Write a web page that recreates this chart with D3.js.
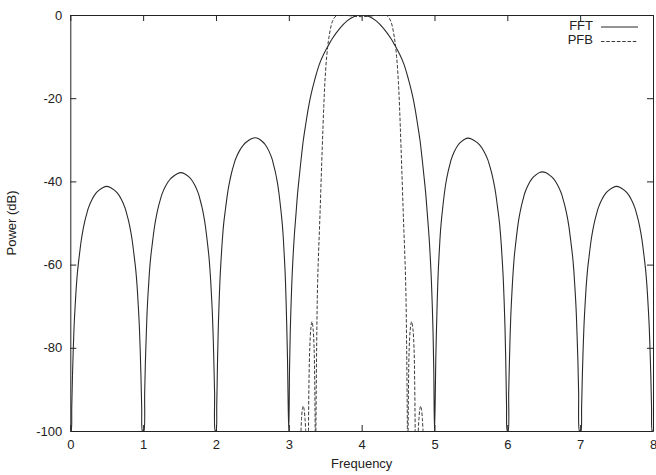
<!DOCTYPE html>
<html>
<head>
<meta charset="utf-8">
<script src="https://cdn.jsdelivr.net/npm/d3@7"></script>
<style>
  body { margin: 0; background: #fff; }
  text { font-family: "Liberation Sans", Arial, sans-serif; fill: #222; }
</style>
</head>
<body>
<script>
// Données : [fréquence, puissance (dB)]
// FFT, un tableau par lobe
const fftLobe1 = [
  [0, -100], [0.01, -100], [0.02, -94.2], [0.03, -86.7], [0.04, -80.7], [0.05, -75.7], [0.06, -72], [0.075, -67.4],
  [0.085, -64.7], [0.1, -61.5], [0.12, -58.4], [0.15, -54.2], [0.17, -52.05], [0.2, -49.5], [0.23, -47.5], [0.25, -46.3],
  [0.3, -44.3], [0.35, -42.9], [0.4, -42.05], [0.45, -41.45], [0.5, -41.2], [0.55, -41.45], [0.6, -42.05], [0.65, -42.9],
  [0.7, -44.3], [0.75, -46.3], [0.77, -47.5], [0.8, -49.5], [0.83, -52.05], [0.85, -54.2], [0.88, -58.4], [0.9, -61.5],
  [0.915, -64.7], [0.925, -67.4], [0.94, -72], [0.95, -75.7], [0.96, -80.7], [0.97, -86.7], [0.98, -94.2], [0.99, -100]
];
const fftLobe2 = [
  [1, -100], [1.01, -100], [1.021, -90.9], [1.031, -83.4], [1.042, -77.4], [1.052, -72.4], [1.062, -68.7], [1.078, -64.1],
  [1.088, -61.4], [1.104, -58.2], [1.125, -55.1], [1.156, -50.9], [1.177, -48.75], [1.208, -46.2], [1.239, -44.2], [1.26, -43],
  [1.312, -41], [1.364, -39.6], [1.416, -38.75], [1.468, -38.15], [1.52, -37.9], [1.568, -38.15], [1.616, -38.75],
  [1.664, -39.6], [1.712, -41], [1.76, -43], [1.779, -44.2], [1.808, -46.2], [1.837, -48.75], [1.856, -50.9],
  [1.885, -55.1], [1.904, -58.2], [1.918, -61.4], [1.928, -64.1], [1.942, -68.7], [1.952, -72.4], [1.962, -77.4],
  [1.971, -83.4], [1.981, -90.9], [1.99, -100]
];
const fftLobe3 = [
  [2, -100], [2.011, -93.5], [2.022, -82.5], [2.032, -75], [2.043, -69], [2.054, -64], [2.065, -60.3], [2.081, -55.7],
  [2.092, -53], [2.108, -49.8], [2.13, -46.7], [2.162, -42.5], [2.184, -40.35], [2.216, -37.8], [2.248, -35.8], [2.27, -34.6],
  [2.324, -32.6], [2.378, -31.2], [2.432, -30.35], [2.486, -29.75], [2.54, -29.5], [2.586, -29.75], [2.632, -30.35],
  [2.678, -31.2], [2.724, -32.6], [2.77, -34.6], [2.788, -35.8], [2.816, -37.8], [2.844, -40.35], [2.862, -42.5],
  [2.89, -46.7], [2.908, -49.8], [2.922, -53], [2.931, -55.7], [2.945, -60.3], [2.954, -64], [2.963, -69], [2.972, -75],
  [2.982, -82.5], [2.991, -93.5]
];
const fftMainLobe = [
  [3, -100], [3.01, -85], [3.02, -76], [3.03, -70], [3.04, -65], [3.05, -61], [3.065, -56], [3.08, -52], [3.1, -47.5],
  [3.12, -43], [3.143, -39], [3.17, -34.5], [3.2, -30], [3.23, -26.5], [3.267, -22.5], [3.3, -19.5], [3.36, -15.3],
  [3.42, -11.8], [3.48, -9.4], [3.54, -7.4], [3.6, -5.6], [3.7, -3.2], [3.8, -1.4], [3.9, -0.35], [4, 0],
  [4.1, -0.35], [4.2, -1.4], [4.3, -3.2], [4.4, -5.6], [4.46, -7.4], [4.52, -9.4], [4.58, -11.8], [4.64, -15.3],
  [4.7, -19.5], [4.733, -22.5], [4.77, -26.5], [4.8, -30], [4.83, -34.5], [4.857, -39], [4.88, -43], [4.9, -47.5],
  [4.92, -52], [4.935, -56], [4.95, -61], [4.96, -65], [4.97, -70], [4.98, -76], [4.99, -85]
];
const fftLobe6 = [
  [5, -100], [5.009, -93.6], [5.018, -82.6], [5.028, -75.1], [5.037, -69.1], [5.046, -64.1], [5.055, -60.4], [5.069, -55.8],
  [5.078, -53.1], [5.092, -49.9], [5.11, -46.8], [5.138, -42.6], [5.156, -40.45], [5.184, -37.9], [5.212, -35.9], [5.23, -34.7],
  [5.276, -32.7], [5.322, -31.3], [5.368, -30.45], [5.414, -29.85], [5.46, -29.6], [5.514, -29.85], [5.568, -30.45],
  [5.622, -31.3], [5.676, -32.7], [5.73, -34.7], [5.752, -35.9], [5.784, -37.9], [5.816, -40.45], [5.838, -42.6],
  [5.87, -46.8], [5.892, -49.9], [5.908, -53.1], [5.919, -55.8], [5.935, -60.4], [5.946, -64.1], [5.957, -69.1],
  [5.968, -75.1], [5.978, -82.6], [5.989, -93.6]
];
const fftLobe7 = [
  [6, -100], [6.01, -100], [6.019, -90.7], [6.029, -83.2], [6.038, -77.2], [6.048, -72.2], [6.058, -68.5], [6.072, -63.9],
  [6.082, -61.2], [6.096, -58], [6.115, -54.9], [6.144, -50.7], [6.163, -48.55], [6.192, -46], [6.221, -44], [6.24, -42.8],
  [6.288, -40.8], [6.336, -39.4], [6.384, -38.55], [6.432, -37.95], [6.48, -37.7], [6.532, -37.95], [6.584, -38.55],
  [6.636, -39.4], [6.688, -40.8], [6.74, -42.8], [6.761, -44], [6.792, -46], [6.823, -48.55], [6.844, -50.7],
  [6.875, -54.9], [6.896, -58], [6.912, -61.2], [6.922, -63.9], [6.938, -68.5], [6.948, -72.2], [6.958, -77.2],
  [6.969, -83.2], [6.979, -90.7], [6.99, -100]
];
const fftLobe8 = [
  [7, -100], [7.01, -100], [7.02, -94.2], [7.03, -86.7], [7.04, -80.7], [7.05, -75.7], [7.06, -72], [7.075, -67.4],
  [7.085, -64.7], [7.1, -61.5], [7.12, -58.4], [7.15, -54.2], [7.17, -52.05], [7.2, -49.5], [7.23, -47.5], [7.25, -46.3],
  [7.3, -44.3], [7.35, -42.9], [7.4, -42.05], [7.45, -41.45], [7.5, -41.2], [7.55, -41.45], [7.6, -42.05], [7.65, -42.9],
  [7.7, -44.3], [7.75, -46.3], [7.77, -47.5], [7.8, -49.5], [7.83, -52.05], [7.85, -54.2], [7.88, -58.4], [7.9, -61.5],
  [7.915, -64.7], [7.925, -67.4], [7.94, -72], [7.95, -75.7], [7.96, -80.7], [7.97, -86.7], [7.98, -94.2], [7.99, -100],
  [8, -100]
];

// PFB : seuls les morceaux au-dessus de -100 dB sont visibles
const pfbSmallLeft = [[3.167, -100], [3.175, -97], [3.186, -94.8], [3.198, -94], [3.21, -94.8], [3.222, -97], [3.232, -100]];
const pfbSideLeft = [[3.27, -100], [3.277, -88], [3.288, -80], [3.302, -75.5], [3.318, -73.7], [3.334, -75.5], [3.347, -80], [3.356, -88], [3.362, -100]];
const pfbMainLobe = [
  [3.372, -100], [3.382, -80], [3.396, -64], [3.428, -48], [3.459, -32], [3.48, -22], [3.496, -16], [3.52, -10],
  [3.55, -5.5], [3.6, -1.5], [3.65, -0.2], [3.7, 0], [3.8, -0.1], [3.9, -0.3], [4, -0.4], [4.1, -0.3], [4.2, -0.1],
  [4.3, 0], [4.35, -0.2], [4.4, -1.5], [4.45, -5.5], [4.48, -10], [4.504, -16], [4.52, -22], [4.541, -32], [4.572, -48],
  [4.604, -64], [4.618, -80], [4.628, -100]
];
const pfbSideRight = [[4.638, -100], [4.644, -88], [4.653, -80], [4.668, -75.5], [4.686, -73.7], [4.704, -75.5], [4.719, -80], [4.728, -88], [4.735, -100]];
const pfbSmallRight = [[4.777, -100], [4.787, -97], [4.798, -94.8], [4.81, -94], [4.822, -94.8], [4.833, -97], [4.843, -100]];

const xTicks = [0, 1, 2, 3, 4, 5, 6, 7, 8];
const yTicks = [0, -20, -40, -60, -80, -100];
const seriesNames = ["FFT", "PFB"];

const fftData = [].concat(fftLobe1, fftLobe2, fftLobe3, fftMainLobe, fftLobe6, fftLobe7, fftLobe8);
const pfbParts = [pfbSmallLeft, pfbSideLeft, pfbMainLobe, pfbSideRight, pfbSmallRight];

const width = 656;
const height = 475;
const margin = { top: 15, right: 3, bottom: 44, left: 70.3 };

const svg = d3.select("body").append("svg")
  .attr("width", width)
  .attr("height", height);

const x = d3.scaleLinear().domain([0, 8]).range([margin.left, width - margin.right]);
const y = d3.scaleLinear().domain([-100, 0]).range([height - margin.bottom, margin.top]);

// Zone de clip
svg.append("clipPath").attr("id", "clip")
  .append("rect")
  .attr("x", x(0)).attr("y", y(0))
  .attr("width", x(8) - x(0)).attr("height", y(-100) - y(0));

// Axes (ticks vers l'intérieur, sur les 4 côtés)
const fontSize = "13px";
const plain = d => String(d); // tiret simple, pas de signe moins unicode

svg.append("g")
  .attr("transform", `translate(0,${y(-100)})`)
  .call(d3.axisBottom(x).tickValues(xTicks).tickSize(-6).tickSizeOuter(0).tickPadding(9).tickFormat(plain));
svg.append("g")
  .attr("transform", `translate(${x(0)},0)`)
  .call(d3.axisLeft(y).tickValues(yTicks).tickSize(-6).tickSizeOuter(0).tickPadding(8).tickFormat(plain));
svg.append("g")
  .attr("transform", `translate(0,${y(0)})`)
  .call(d3.axisTop(x).tickValues(xTicks).tickSize(-6).tickSizeOuter(0).tickFormat(""));
svg.append("g")
  .attr("transform", `translate(${x(8)},0)`)
  .call(d3.axisRight(y).tickValues(yTicks).tickSize(-6).tickSizeOuter(0).tickFormat(""));

svg.selectAll(".domain, .tick line").attr("stroke", "#222").attr("stroke-width", 1);
svg.selectAll(".tick text").style("font-size", fontSize).attr("fill", "#222")
  .style("font-family", '"Liberation Sans", Arial, sans-serif');

// Titres des axes
svg.append("text")
  .attr("x", x(4)).attr("y", 467.5)
  .attr("text-anchor", "middle")
  .style("font-size", fontSize)
  .text("Frequency");

svg.append("text")
  .attr("transform", `translate(16,${(y(0) + y(-100)) / 2}) rotate(-90)`)
  .attr("text-anchor", "middle")
  .style("font-size", fontSize)
  .text("Power (dB)");

// Courbes
const line = d3.line()
  .x(d => x(d[0]))
  .y(d => y(d[1]))
  .curve(d3.curveCatmullRom.alpha(0.5));

const plot = svg.append("g").attr("clip-path", "url(#clip)");

plot.append("path")
  .datum(fftData)
  .attr("d", line)
  .attr("fill", "none")
  .attr("stroke", "#2a2a2a")
  .attr("stroke-width", 1.1);

plot.selectAll(".pfb")
  .data(pfbParts)
  .enter()
  .append("path")
  .attr("class", "pfb")
  .attr("d", line)
  .attr("fill", "none")
  .attr("stroke", "#3a3a3a")
  .attr("stroke-width", 1)
  .attr("stroke-dasharray", "3.5,1.8");

// Légende
const legend = svg.append("g");
const legendY = [29.5, 44];
const lineY = [27, 41.5];
seriesNames.forEach((name, i) => {
  legend.append("text")
    .attr("x", 593).attr("y", legendY[i])
    .attr("text-anchor", "end")
    .style("font-size", fontSize)
    .text(name);
  legend.append("line")
    .attr("x1", 601).attr("x2", 638)
    .attr("y1", lineY[i]).attr("y2", lineY[i])
    .attr("stroke", i === 0 ? "#2a2a2a" : "#3a3a3a")
    .attr("stroke-width", i === 0 ? 1.1 : 1)
    .attr("stroke-dasharray", i === 0 ? null : "3.5,1.8");
});
</script>
</body>
</html>
